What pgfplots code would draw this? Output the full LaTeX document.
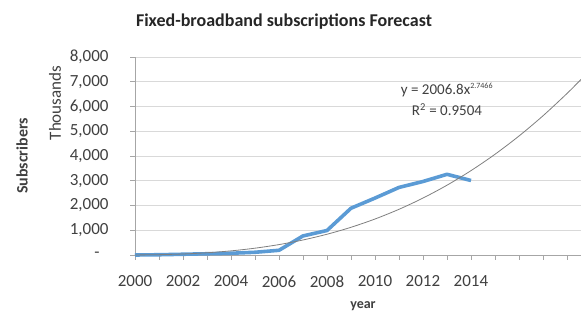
\documentclass[border=0pt]{standalone}
\usepackage{fontspec}
\setmainfont{Carlito}
\usepackage{pgfplots}
\pgfplotsset{compat=1.18}
\definecolor{txt}{HTML}{404040}
\definecolor{blueline}{HTML}{5B9BD5}
\definecolor{gridc}{HTML}{D9D9D9}
\definecolor{axc}{HTML}{A6A6A6}
\definecolor{trendc}{HTML}{7F7F7F}
\begin{document}
\begin{tikzpicture}[x=1pt,y=1pt]
\path[use as bounding box] (0,0) rectangle (581,313);
\begin{axis}[
  at={(135pt,58pt)}, anchor=south west,
  scale only axis, width=446pt, height=198pt,
  xmin=2000, xmax=2018.583, ymin=0, ymax=8000,
  clip=false,
  axis x line*=bottom, axis y line*=left,
  axis line style={-, axc, line width=0.8pt},
  xtick={2000,...,2018},
  xticklabels={2000,,2002,,2004,,2006,,2008,,2010,,2012,,2014,,,,},
  ytick={0,1000,...,8000},
  yticklabels={{-\hspace*{9pt}},{1,000},{2,000},{3,000},{4,000},{5,000},{6,000},{7,000},{8,000}},
  tick align=outside,
  major tick length=5pt,
  tick style={axc, line width=0.8pt},
  ymajorgrids,
  major grid style={gridc, line width=0.8pt},
  ticklabel style={font=\fontsize{17}{17}\selectfont, text=txt},
  yticklabel style={xshift=-18pt},
  xticklabel style={yshift=-12pt},
]
\addplot[blueline, line width=3.6pt, line join=round] coordinates {
  (2000,0) (2001,10) (2002,30) (2003,50) (2004,70) (2005,110) (2006,190)
  (2007,770) (2008,990) (2009,1890) (2010,2300) (2011,2730) (2012,2970)
  (2013,3260) (2014,3010)
};
\addplot[trendc, line width=0.8pt, smooth] coordinates {
  (2000,2.0) (2001,13.5) (2002,41.0) (2003,90.4) (2004,166.8) (2005,275.3)
  (2006,420.4) (2007,606.9) (2008,838.5) (2009,1119.4) (2010,1453.9)
  (2011,1846.3) (2012,2301) (2013,2820) (2014,3409) (2015,4070)
  (2016,4808) (2017,5625) (2018,6526) (2018.583,7094)
};
\end{axis}
\node[font=\fontsize{18}{18}\selectfont\bfseries, text=black!85] at (284,291) {Fixed-broadband subscriptions Forecast};
\node[font=\fontsize{16}{16}\selectfont\bfseries, text=txt, rotate=90] at (22,157) {Subscribers};
\node[font=\fontsize{17}{17}\selectfont, text=txt, rotate=90] at (55,210) {Thousands};
\node[font=\fontsize{14}{14}\selectfont\bfseries, text=txt, anchor=base] at (363,4) {year};
\node[font=\fontsize{15}{15}\selectfont, text=txt] at (447,223) {y = 2006.8x\textsuperscript{\fontsize{8}{8}\selectfont 2.7466}};
\node[font=\fontsize{15}{15}\selectfont, text=txt] at (447,203) {R\textsuperscript{2} = 0.9504};
\end{tikzpicture}
\end{document}
